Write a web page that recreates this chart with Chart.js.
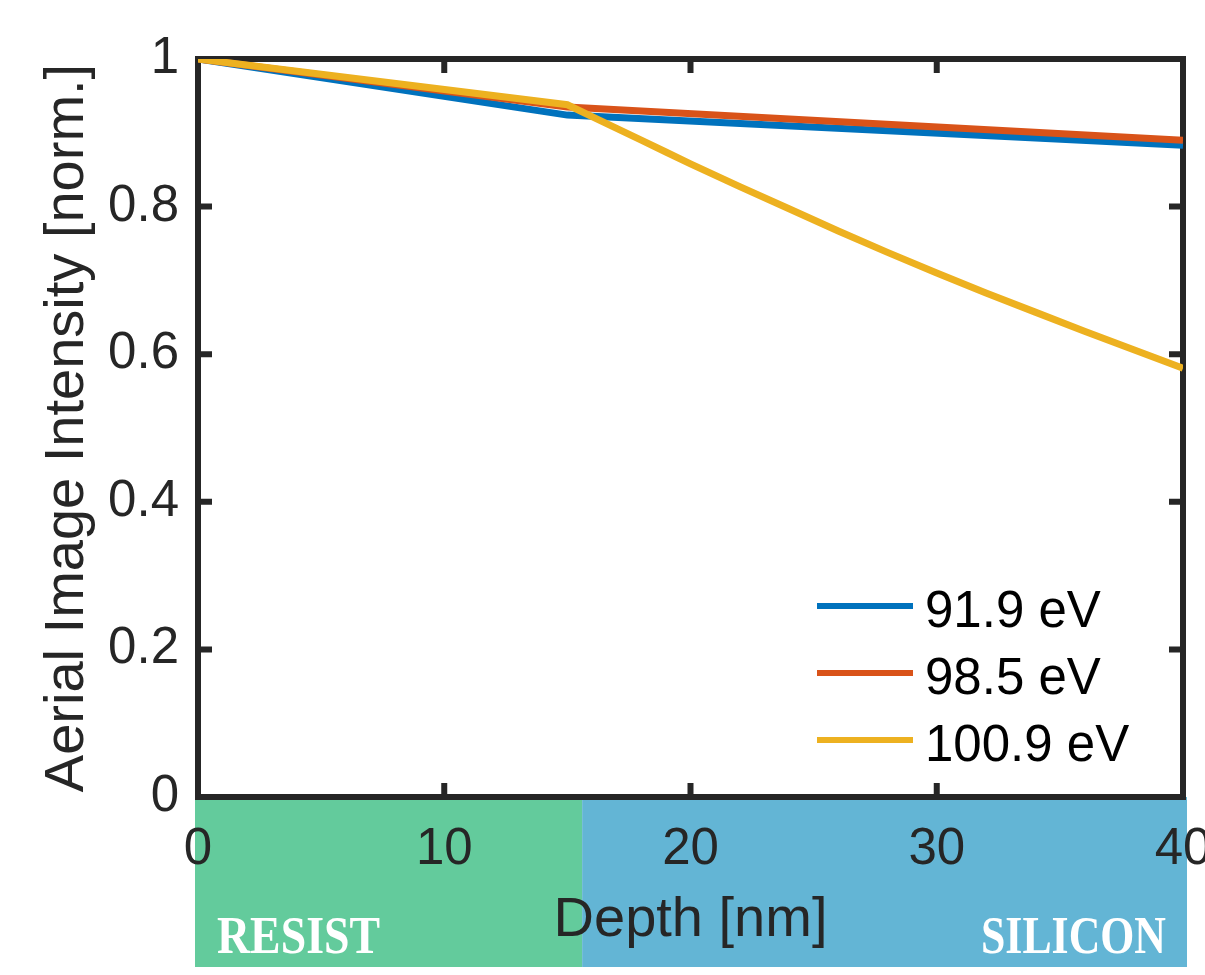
<!DOCTYPE html>
<html>
<head>
<meta charset="utf-8">
<script src="https://cdn.jsdelivr.net/npm/chart.js@4"></script>
<style>
html, body { margin: 0; padding: 0; background: #fff; }
canvas { display: block; }
</style>
</head>
<body>
<canvas id="depthChart" width="1205" height="975"></canvas>
<script>
// values
const depthKnots = [0, 15, 40];
const intensity919 = [1, 0.924, 0.883];
const intensity985 = [1, 0.935, 0.890];
const depth1009 = [0, 15, 16, 17, 18, 19, 20, 22, 24, 26, 28, 30, 32, 34, 36, 38, 40];
const intensity1009 = [1, 0.938, 0.922, 0.906, 0.890, 0.874, 0.858, 0.827, 0.797, 0.767, 0.738, 0.710, 0.683, 0.657, 0.631, 0.606, 0.581];
const seriesLabels = ['91.9 eV', '98.5 eV', '100.9 eV'];
const xTicks = [0, 10, 20, 30, 40];
const yTicks = [0, 0.2, 0.4, 0.6, 0.8, 1];
const layerNames = ['RESIST', 'SILICON'];
const layerEdges = [0, 15.6, 40];

const axisColor = '#262626';
const sansFont = "'Liberation Sans', Arial, sans-serif";

function toPoints(xs, ys) {
    return xs.map((x, i) => ({ x: x, y: ys[i] }));
}

// coloured material bands under the x axis
const layersPlugin = {
    id: 'layers',
    beforeDraw(chart) {
        const { ctx, chartArea, scales: { x } } = chart;
        const colors = ['#63cb9c', '#63b5d5'];
        ctx.save();
        for (let i = 0; i < layerNames.length; i++) {
            let x0 = x.getPixelForValue(layerEdges[i]);
            let x1 = x.getPixelForValue(layerEdges[i + 1]);
            if (i === 0) x0 -= 3;
            if (i === layerNames.length - 1) x1 += 4;
            ctx.fillStyle = colors[i];
            ctx.fillRect(x0, chartArea.bottom, x1 - x0, 967 - chartArea.bottom);
        }
        ctx.font = "bold 53px 'Liberation Serif', 'Times New Roman', serif";
        ctx.fillStyle = '#fff';
        ctx.textBaseline = 'alphabetic';
        ctx.textAlign = 'left';
        ctx.fillText(layerNames[0], 217, 953, 163);
        ctx.textAlign = 'right';
        ctx.fillText(layerNames[1], 1166, 953, 185);
        ctx.restore();
    }
};

// MATLAB style box with inward ticks
const framePlugin = {
    id: 'frame',
    beforeDatasetsDraw(chart) {
        const { ctx, chartArea: a, scales: { x, y } } = chart;
        const len = 14;
        ctx.save();
        ctx.strokeStyle = axisColor;
        ctx.lineWidth = 6;
        ctx.beginPath();
        xTicks.forEach(v => {
            const px = x.getPixelForValue(v);
            ctx.moveTo(px, a.bottom); ctx.lineTo(px, a.bottom - len);
            ctx.moveTo(px, a.top); ctx.lineTo(px, a.top + len);
        });
        yTicks.forEach(v => {
            const py = y.getPixelForValue(v);
            ctx.moveTo(a.left, py); ctx.lineTo(a.left + len, py);
            ctx.moveTo(a.right, py); ctx.lineTo(a.right - len, py);
        });
        ctx.stroke();
        ctx.strokeRect(a.left, a.top, a.right - a.left, a.bottom - a.top);
        ctx.restore();
    }
};

const legendPlugin = {
    id: 'boxLegend',
    afterDraw(chart) {
        const ctx = chart.ctx;
        const rows = [606, 673, 740];
        ctx.save();
        ctx.font = '51px ' + sansFont;
        ctx.textBaseline = 'alphabetic';
        ctx.textAlign = 'left';
        chart.data.datasets.forEach((ds, i) => {
            ctx.strokeStyle = ds.borderColor;
            ctx.lineWidth = 6;
            ctx.beginPath();
            ctx.moveTo(817, rows[i]);
            ctx.lineTo(913, rows[i]);
            ctx.stroke();
            ctx.fillStyle = '#000';
            ctx.fillText(ds.label, 925, rows[i] + 21);
        });
        ctx.restore();
    }
};

const ctx = document.getElementById('depthChart').getContext('2d');
new Chart(ctx, {
    type: 'line',
    data: {
        datasets: [{
            label: seriesLabels[0],
            data: toPoints(depthKnots, intensity919),
            borderColor: '#0072bd',
            order: 2
        }, {
            label: seriesLabels[1],
            data: toPoints(depthKnots, intensity985),
            borderColor: '#d95319',
            order: 1
        }, {
            label: seriesLabels[2],
            data: toPoints(depth1009, intensity1009),
            borderColor: '#edb120',
            order: 0
        }]
    },
    options: {
        responsive: false,
        animation: false,
        layout: { padding: { top: 59, right: 22, bottom: 0, left: 0 } },
        elements: {
            line: { borderWidth: 7, tension: 0, fill: false },
            point: { radius: 0 }
        },
        plugins: {
            legend: { display: false },
            tooltip: { enabled: false }
        },
        scales: {
            x: {
                type: 'linear',
                min: 0,
                max: 40,
                afterBuildTicks: s => { s.ticks = xTicks.map(v => ({ value: v })); },
                afterFit: s => { s.height = 178; s.paddingLeft = 0; s.paddingRight = 0; },
                grid: { display: false, drawTicks: false },
                border: { display: false },
                ticks: {
                    color: axisColor,
                    padding: 27,
                    maxRotation: 0,
                    font: { family: sansFont, size: 51, lineHeight: 1 }
                },
                title: {
                    display: true,
                    text: 'Depth [nm]',
                    color: axisColor,
                    padding: { top: 0, bottom: 26 },
                    font: { family: sansFont, size: 56, lineHeight: 1 }
                }
            },
            y: {
                type: 'linear',
                min: 0,
                max: 1,
                afterBuildTicks: s => { s.ticks = yTicks.map(v => ({ value: v })); },
                afterFit: s => { s.width = 198; },
                grid: { display: false, drawTicks: false },
                border: { display: false },
                ticks: {
                    color: axisColor,
                    padding: 19,
                    font: { family: sansFont, size: 51, lineHeight: 1 },
                    callback: v => String(+v.toFixed(1))
                },
                title: {
                    display: true,
                    text: 'Aerial Image Intensity [norm.]',
                    color: axisColor,
                    padding: { top: 40, bottom: 0 },
                    font: { family: sansFont, size: 56, lineHeight: 1 }
                }
            }
        }
    },
    plugins: [layersPlugin, framePlugin, legendPlugin]
});
</script>
</body>
</html>
